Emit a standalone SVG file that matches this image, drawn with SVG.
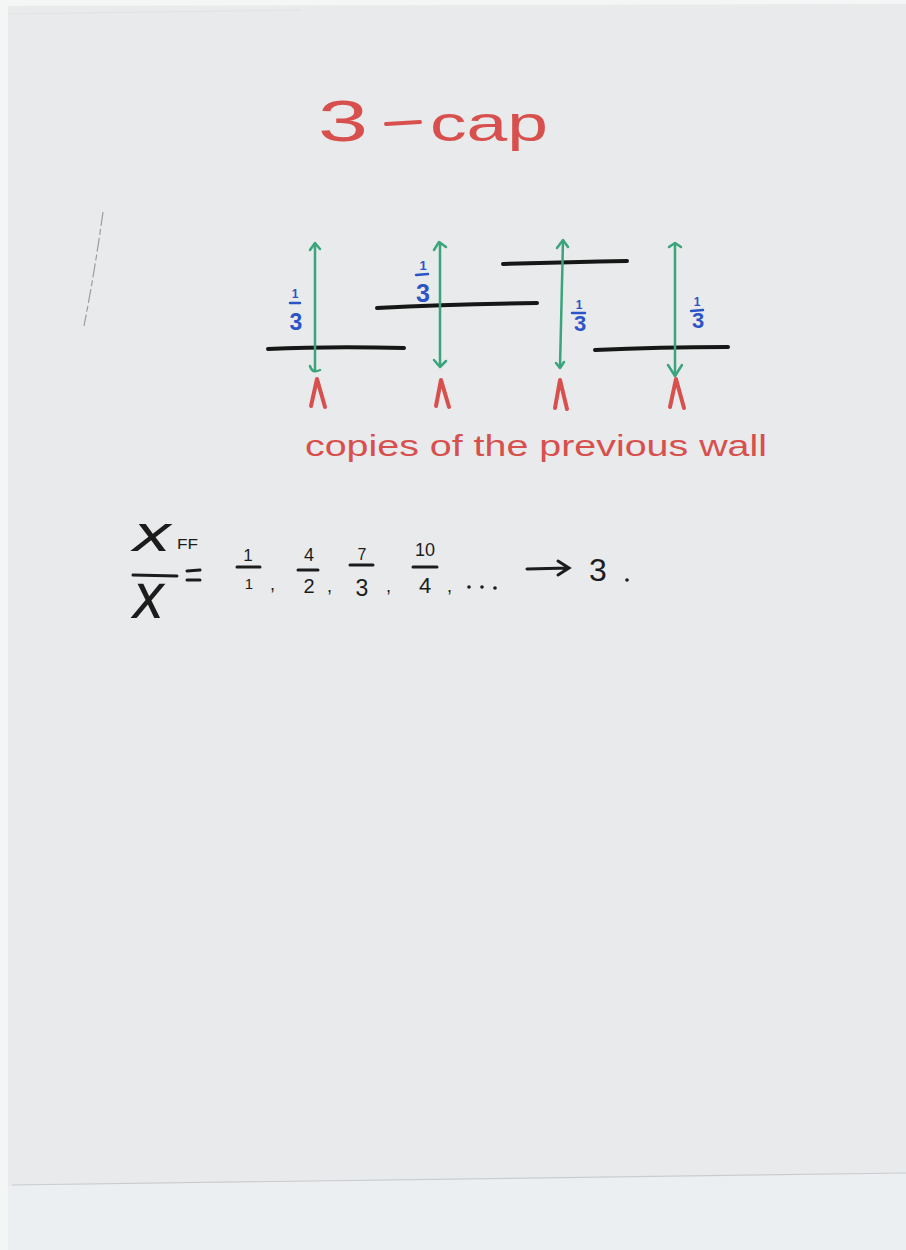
<svg xmlns="http://www.w3.org/2000/svg" width="906" height="1250" viewBox="0 0 906 1250">
  <style>
    .red { fill: #d8504e; font-family: "Liberation Sans", "DejaVu Sans", sans-serif; }
    .blue { fill: #2b55c6; font-family: "Liberation Sans", "DejaVu Sans", sans-serif; font-weight: bold; }
    .ink { fill: #1c1c1c; font-family: "Liberation Sans", "DejaVu Sans", sans-serif; }
    .var { fill: #1c1c1c; font-family: "DejaVu Sans", "Liberation Sans", sans-serif; font-style: italic; font-weight: 300; }
    .wall { stroke: #161616; stroke-width: 4; fill: none; stroke-linecap: round; }
    .green { stroke: #3aa47c; stroke-width: 2.5; fill: none; stroke-linecap: round; stroke-linejoin: round; }
    .caret { stroke: #d8504e; stroke-width: 4; fill: none; stroke-linecap: round; stroke-linejoin: round; }
    .bbar { stroke: #2b55c6; stroke-width: 2.5; stroke-linecap: round; }
    .kbar { stroke: #1c1c1c; stroke-width: 3; stroke-linecap: round; fill: none; }
  </style>
  <!-- page background -->
  <rect x="0" y="0" width="906" height="1250" fill="#f4f5f5"/>
  <polygon points="8,6 906,4 906,1173 8,1186" fill="#e8eaeb"/>
  <polygon points="8,1186 906,1173 906,1250 8,1250" fill="#eceff1"/>
  <line x1="12" y1="1185" x2="906" y2="1173" stroke="#c9cdd1" stroke-width="1.2"/>
  <line x1="8" y1="14" x2="300" y2="10" stroke="#e0e2e3" stroke-width="1"/>
  <path d="M103,212 Q95,270 84,326" stroke="#9a9da0" stroke-width="1.2" fill="none" stroke-dasharray="14,3,6,3"/>

  <!-- title -->
  <g id="title">
    <text class="red" x="318" y="141" font-size="58" textLength="50" lengthAdjust="spacingAndGlyphs">3</text>
    <line x1="386" y1="124" x2="420" y2="122" stroke="#d8504e" stroke-width="4" stroke-linecap="round"/>
    <text class="red" x="430" y="141" font-size="50" textLength="118" lengthAdjust="spacingAndGlyphs">cap</text>
  </g>

  <!-- walls -->
  <g id="walls">
    <path class="wall" d="M268,349 Q330,346 404,348"/>
    <path class="wall" d="M377,308 Q450,304 537,303"/>
    <path class="wall" d="M503,264 Q570,262 627,261"/>
    <path class="wall" d="M595,350 Q660,347 728,347"/>
  </g>

  <!-- connectors: green double arrows -->
  <g id="connectors">
    <path class="green" d="M315,244 L315,370"/>
    <path class="green" d="M310,250 L315,243 L320,249"/>
    <path class="green" d="M310,366 Q312,374 320,370"/>
    <path class="green" d="M440,243 L440,366"/>
    <path class="green" d="M434,250 L439,242 L446,247"/>
    <path class="green" d="M434,360 L440,367 L446,361"/>
    <path class="green" d="M563,241 L560,367"/>
    <path class="green" d="M557,248 L563,240 L568,247"/>
    <path class="green" d="M556,363 L560,368 L564,362"/>
    <path class="green" d="M675,244 L675,376"/>
    <path class="green" d="M669,247 L675,243 L681,247"/>
    <path class="green" d="M668,365 L675,376 L682,365"/>
  </g>

  <!-- one-third labels -->
  <g id="label1">
    <text class="blue" x="295" y="298" font-size="12" text-anchor="middle">1</text>
    <line class="bbar" x1="290" y1="303" x2="300" y2="303"/>
    <text class="blue" x="296" y="330" font-size="23" text-anchor="middle">3</text>
  </g>
  <g id="label2">
    <text class="blue" x="423" y="270" font-size="13" text-anchor="middle">1</text>
    <line class="bbar" x1="416" y1="275" x2="428" y2="274"/>
    <text class="blue" x="423" y="302" font-size="25" text-anchor="middle">3</text>
  </g>
  <g id="label3">
    <text class="blue" x="579" y="309" font-size="12" text-anchor="middle">1</text>
    <line class="bbar" x1="572" y1="313" x2="585" y2="313"/>
    <text class="blue" x="580" y="331" font-size="22" text-anchor="middle">3</text>
  </g>
  <g id="label4">
    <text class="blue" x="697" y="306" font-size="12" text-anchor="middle">1</text>
    <line class="bbar" x1="691" y1="311" x2="703" y2="310"/>
    <text class="blue" x="698" y="328" font-size="22" text-anchor="middle">3</text>
  </g>

  <!-- red carets -->
  <g id="carets">
    <path class="caret" d="M311,406 L317,379 L325,407"/>
    <path class="caret" d="M436,406 L441,380 L449,407"/>
    <path class="caret" d="M555,408 L560,380 L567,409"/>
    <path class="caret" d="M670,407 L676,379 L684,408"/>
  </g>

  <g id="caption">
    <text class="red" x="305" y="456" font-size="30" textLength="462" lengthAdjust="spacingAndGlyphs">copies of the previous wall</text>
  </g>

  <!-- equation -->
  <g id="equation">
    <text class="var" x="132" y="551" font-size="50" textLength="40" lengthAdjust="spacingAndGlyphs">x</text>
    <text class="ink" x="177" y="549" font-size="14" textLength="21" lengthAdjust="spacingAndGlyphs">FF</text>
    <line class="kbar" x1="133" y1="575" x2="177" y2="576"/>
    <text class="var" x="132" y="618" font-size="62" textLength="33" lengthAdjust="spacingAndGlyphs">x</text>
    <line class="kbar" x1="187" y1="571" x2="200" y2="570"/>
    <line class="kbar" x1="187" y1="580" x2="200" y2="580"/>

    <text class="ink" x="248" y="561" font-size="17" text-anchor="middle">1</text>
    <line class="kbar" x1="237" y1="567" x2="260" y2="567"/>
    <text class="ink" x="249" y="589" font-size="15" text-anchor="middle">1</text>
    <text class="ink" x="270" y="590" font-size="18">,</text>

    <text class="ink" x="309" y="561" font-size="18" text-anchor="middle">4</text>
    <line class="kbar" x1="298" y1="570" x2="318" y2="570"/>
    <text class="ink" x="309" y="593" font-size="20" text-anchor="middle">2</text>
    <text class="ink" x="327" y="592" font-size="18">,</text>

    <text class="ink" x="362" y="560" font-size="16" text-anchor="middle">7</text>
    <line class="kbar" x1="350" y1="565" x2="373" y2="565"/>
    <text class="ink" x="362" y="596" font-size="23" text-anchor="middle">3</text>
    <text class="ink" x="386" y="592" font-size="18">,</text>

    <text class="ink" x="425" y="556" font-size="18" text-anchor="middle">10</text>
    <line class="kbar" x1="413" y1="567" x2="437" y2="567"/>
    <text class="ink" x="425" y="593" font-size="22" text-anchor="middle">4</text>
    <text class="ink" x="447" y="592" font-size="18">,</text>

    <circle cx="469" cy="587" r="1.8" fill="#1c1c1c"/>
    <circle cx="482" cy="587" r="1.8" fill="#1c1c1c"/>
    <circle cx="495" cy="588" r="1.8" fill="#1c1c1c"/>

    <path class="kbar" d="M527,569 L569,568 M558,561 L569,568 L558,575"/>
    <text class="ink" x="589" y="581" font-size="32">3</text>
    <circle cx="627" cy="580" r="1.8" fill="#1c1c1c"/>
  </g>
</svg>
